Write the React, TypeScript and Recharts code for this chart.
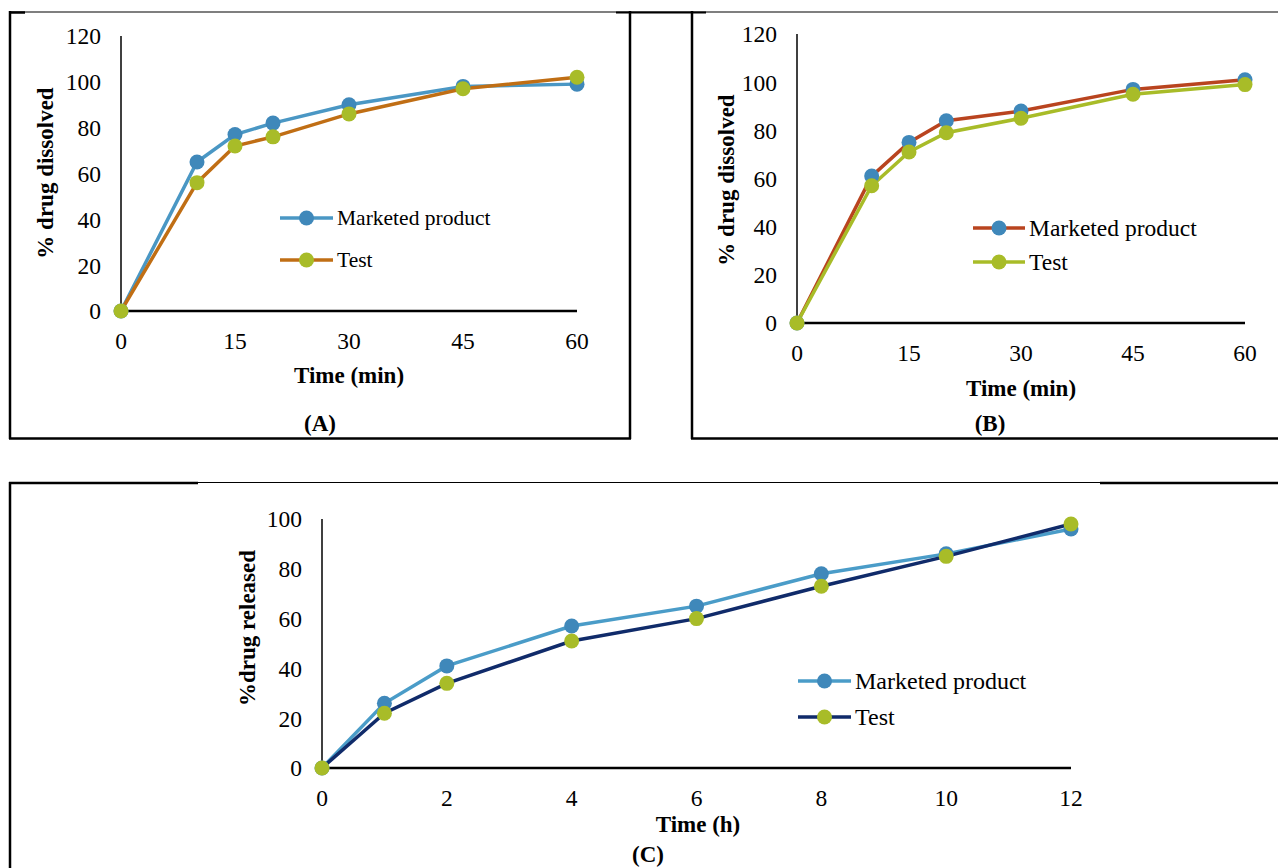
import React from 'react';
import { LineChart, Line, XAxis, YAxis, Legend } from 'recharts';

const FONT = '"Liberation Serif", "Times New Roman", Times, serif';

// Panel A
const timeA = [0, 10, 15, 20, 30, 45, 60];
const marketedA = [0, 65, 77, 82, 90, 98, 99];
const testA = [0, 56, 72, 76, 86, 97, 102];
const xTicksA = [0, 15, 30, 45, 60];
const yTicksA = [0, 20, 40, 60, 80, 100, 120];

// Panel B
const timeB = [0, 10, 15, 20, 30, 45, 60];
const marketedB = [0, 61, 75, 84, 88, 97, 101];
const testB = [0, 57, 71, 79, 85, 95, 99];
const xTicksB = [0, 15, 30, 45, 60];
const yTicksB = [0, 20, 40, 60, 80, 100, 120];

// Panel C
const timeC = [0, 1, 2, 4, 6, 8, 10, 12];
const marketedC = [0, 26, 41, 57, 65, 78, 86, 96];
const testC = [0, 22, 34, 51, 60, 73, 85, 98];
const xTicksC = [0, 2, 4, 6, 8, 10, 12];
const yTicksC = [0, 20, 40, 60, 80, 100];

const SERIES_NAMES = ['Marketed product', 'Test'];

const build = (t: number[], m: number[], s: number[]) =>
  t.map((x, i) => ({ t: x, m: m[i], s: s[i] }));

const dataA = build(timeA, marketedA, testA);
const dataB = build(timeB, marketedB, testB);
const dataC = build(timeC, marketedC, testC);

type Item = { name: string; line: string; marker: string };

const makeLegend = (items: Item[], rowGap: number, fontSize: number, lineLen: number) => () => (
  <svg width={260} height={rowGap + 30} style={{ overflow: 'visible', display: 'block' }}>
    {items.map((it, i) => {
      const y = 12 + i * rowGap;
      return (
        <g key={it.name}>
          <line x1={0} x2={lineLen} y1={y} y2={y} stroke={it.line} strokeWidth={3.5} />
          <circle cx={lineLen / 2} cy={y} r={7.5} fill={it.marker} />
          <text x={lineLen + 4} y={y} dominantBaseline="central" fontFamily={FONT} fontSize={fontSize} fill="#000">
            {it.name}
          </text>
        </g>
      );
    })}
  </svg>
);

type PanelProps = {
  data: { t: number; m: number; s: number }[];
  width: number;
  height: number;
  margin: { top: number; right: number; bottom: number; left: number };
  yWidth: number;
  xDomain: [number, number];
  yDomain: [number, number];
  xTicks: number[];
  yTicks: number[];
  mLine: string;
  mMarker: string;
  sLine: string;
  sMarker: string;
  legendLeft: number;
  legendTop: number;
  legendGap: number;
  legendFont: number;
  legendLineLen: number;
};

const Panel = (p: PanelProps) => {
  const tick = { fill: '#000', fontSize: 23.5, fontFamily: FONT };
  const items: Item[] = [
    { name: SERIES_NAMES[0], line: p.mLine, marker: p.mMarker },
    { name: SERIES_NAMES[1], line: p.sLine, marker: p.sMarker },
  ];
  return (
    <LineChart width={p.width} height={p.height} data={p.data} margin={p.margin}>
      <XAxis
        dataKey="t"
        type="number"
        domain={p.xDomain}
        ticks={p.xTicks}
        tickLine={false}
        tickSize={6}
        tickMargin={15}
        height={30}
        axisLine={{ stroke: '#000', strokeWidth: 2.5 }}
        tick={tick}
        interval={0}
      />
      <YAxis
        type="number"
        domain={p.yDomain}
        ticks={p.yTicks}
        tickLine={false}
        tickSize={6}
        tickMargin={14}
        width={p.yWidth}
        axisLine={{ stroke: '#000', strokeWidth: 1.5 }}
        tick={tick}
        interval={0}
      />
      <Legend
        layout="vertical"
        align="center"
        verticalAlign="middle"
        content={makeLegend(items, p.legendGap, p.legendFont, p.legendLineLen)}
        wrapperStyle={{ left: p.legendLeft, top: p.legendTop, width: 260, height: p.legendGap + 30 }}
      />
      <Line
        dataKey="m"
        name={SERIES_NAMES[0]}
        stroke={p.mLine}
        strokeWidth={3.5}
        dot={{ r: 7.5, fill: p.mMarker, stroke: 'none', strokeWidth: 0 }}
        isAnimationActive={false}
        type="linear"
      />
      <Line
        dataKey="s"
        name={SERIES_NAMES[1]}
        stroke={p.sLine}
        strokeWidth={3.5}
        dot={{ r: 7.5, fill: p.sMarker, stroke: 'none', strokeWidth: 0 }}
        isAnimationActive={false}
        type="linear"
      />
    </LineChart>
  );
};

const GREEN = '#A8BC28';
const BLUE_M = '#3F88BA';

export default function App() {
  return (
    <div style={{ position: 'absolute', left: 0, top: 0, width: 1278, height: 868, background: '#fff', overflow: 'hidden', fontFamily: FONT }}>
      <div style={{ position: 'absolute', left: 0, top: 0 }}>
        <Panel
          data={dataA}
          width={640}
          height={440}
          margin={{ top: 36, right: 63, bottom: 99, left: 0 }}
          yWidth={121}
          xDomain={[0, 60]}
          yDomain={[0, 120]}
          xTicks={xTicksA}
          yTicks={yTicksA}
          mLine="#4A97C4"
          mMarker={BLUE_M}
          sLine="#C06E14"
          sMarker={GREEN}
          legendLeft={280}
          legendTop={206}
          legendGap={42}
          legendFont={21.5}
          legendLineLen={53}
        />
      </div>
      <div style={{ position: 'absolute', left: 640, top: 0 }}>
        <Panel
          data={dataB}
          width={638}
          height={440}
          margin={{ top: 34, right: 33, bottom: 87, left: 0 }}
          yWidth={157}
          xDomain={[0, 60]}
          yDomain={[0, 120]}
          xTicks={xTicksB}
          yTicks={yTicksB}
          mLine="#B9441F"
          mMarker={BLUE_M}
          sLine={GREEN}
          sMarker={GREEN}
          legendLeft={333}
          legendTop={216}
          legendGap={34}
          legendFont={23.5}
          legendLineLen={52}
        />
      </div>
      <div style={{ position: 'absolute', left: 0, top: 470 }}>
        <Panel
          data={dataC}
          width={1278}
          height={398}
          margin={{ top: 49, right: 207, bottom: 70, left: 0 }}
          yWidth={322}
          xDomain={[0, 12]}
          yDomain={[0, 100]}
          xTicks={xTicksC}
          yTicks={yTicksC}
          mLine="#4A9CC8"
          mMarker={BLUE_M}
          sLine="#102B6A"
          sMarker={GREEN}
          legendLeft={798}
          legendTop={199}
          legendGap={36}
          legendFont={24}
          legendLineLen={53}
        />
      </div>
      <svg width={1278} height={868} style={{ position: 'absolute', left: 0, top: 0, pointerEvents: 'none' }}>
        {/* borders */}
        <g stroke="#000" fill="none">
          <line x1={9} y1={12} x2={1278} y2={12} strokeWidth={1.2} />
          <line x1={9} y1={12.5} x2={25} y2={12.5} strokeWidth={2.5} />
          <line x1={616} y1={12.5} x2={706} y2={12.5} strokeWidth={2.2} />
          <line x1={10} y1={11} x2={10} y2={439} strokeWidth={2.5} />
          <line x1={630} y1={11} x2={630} y2={439} strokeWidth={2.5} />
          <line x1={9} y1={438.5} x2={631} y2={438.5} strokeWidth={2.5} />
          <line x1={692} y1={11} x2={692} y2={439} strokeWidth={2.5} />
          <line x1={691} y1={438.5} x2={1278} y2={438.5} strokeWidth={2.5} />
          <line x1={9} y1={482.5} x2={1278} y2={482.5} strokeWidth={1.2} />
          <line x1={9} y1={483} x2={198} y2={483} strokeWidth={2.5} />
          <line x1={1100} y1={483} x2={1278} y2={483} strokeWidth={2.5} />
          <line x1={10} y1={482} x2={10} y2={868} strokeWidth={2.5} />
        </g>
        {/* titles */}
        <g fontFamily={FONT} fontWeight="bold" fontSize={23} fill="#000" textAnchor="middle">
          <text transform="translate(45,173) rotate(-90)" dominantBaseline="central">% drug dissolved</text>
          <text x={349} y={375} dominantBaseline="central">Time (min)</text>
          <text x={320} y={423} dominantBaseline="central">(A)</text>
          <text transform="translate(726,180) rotate(-90)" dominantBaseline="central">% drug dissolved</text>
          <text x={1021} y={388} dominantBaseline="central">Time (min)</text>
          <text x={990} y={423} dominantBaseline="central">(B)</text>
          <text transform="translate(247,628) rotate(-90)" dominantBaseline="central">%drug released</text>
          <text x={698} y={824} dominantBaseline="central">Time (h)</text>
          <text x={648} y={854} dominantBaseline="central">(C)</text>
        </g>
      </svg>
    </div>
  );
}
